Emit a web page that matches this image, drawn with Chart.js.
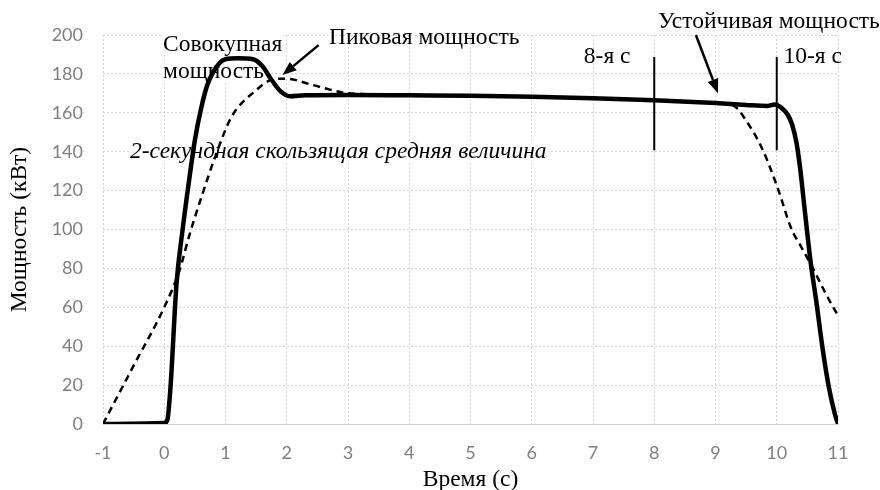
<!DOCTYPE html>
<html>
<head>
<meta charset="utf-8">
<script src="https://cdn.jsdelivr.net/npm/chart.js@4"></script>
<style>
  body { margin: 0; background: #fff; }
</style>
</head>
<body>
<canvas id="myChart" width="880" height="490"></canvas>
<script>
// total power (solid line)
const solidTime = [-1, 0, 0.05, 0.1, 0.2, 0.3, 0.4, 0.5, 0.6, 0.7, 0.8, 0.9, 1.0, 1.2, 1.45, 1.6, 1.75, 1.9, 2.05, 2.3, 3, 4, 5, 6, 7, 8, 9, 9.5, 9.85, 9.97, 10.08, 10.18, 10.25, 10.32, 10.38, 10.45, 10.55, 10.65, 10.75, 10.85, 10.95, 11];
const solidPower = [0, 0.5, 2, 18, 72, 100, 124, 146, 162, 174, 181, 185.5, 187.5, 188, 187.5, 184, 177, 171, 168.5, 169, 169.2, 169, 168.8, 168.2, 167.5, 166.5, 165, 164, 163.5, 164.3, 162.5, 159, 154, 145, 132, 112, 84, 62, 38.5, 19, 5, 0];

// 2-second moving average (dashed line)
const avgTime = [-1, -0.5, 0, 0.25, 0.4, 0.6, 0.85, 1.1, 1.44, 1.83, 2.0, 2.4, 2.9, 3.3, 4, 5, 6, 7, 8, 9, 9.3, 9.5, 9.77, 10.03, 10.23, 10.4, 10.6, 10.8, 11];
const avgPower = [0, 30, 60, 79, 96, 116, 139, 158, 170, 177.5, 177.5, 174.5, 170.5, 169.5, 169, 168.8, 168.2, 167.5, 166.5, 165, 163.5, 156, 141, 120, 101, 91, 79.5, 67, 55.7];

const xMin = -1, xMax = 11, xStep = 1;
const yMin = 0, yMax = 200, yStep = 20;

const toPoints = (xs, ys) => xs.map((t, i) => ({ x: t, y: ys[i] }));

const serif = '"Liberation Serif", "Times New Roman", serif';
const fs = 23.5;

const notes = {
  id: 'notes',
  beforeDatasetsDraw(chart) {
    const { ctx, scales: { x, y } } = chart;
    ctx.save();
    ctx.textBaseline = 'middle';
    const under = [
      { t: 'Совокупная', x: -0.02, y: 194.8, f: fs + 'px ' + serif },
      { t: 'мощность', x: -0.02, y: 181, f: fs + 'px ' + serif },
      { t: '2-секундная скользящая средняя величина', x: -0.56, y: 139.7, f: 'italic ' + fs + 'px ' + serif },
    ];
    under.forEach(l => {
      ctx.font = l.f;
      const px = x.getPixelForValue(l.x), py = y.getPixelForValue(l.y);
      const w = ctx.measureText(l.t).width;
      ctx.fillStyle = '#fff';
      ctx.fillRect(px - 1, py - 10, w + 2, 20);
      ctx.fillStyle = '#000';
      ctx.fillText(l.t, px, py);
    });
    ctx.restore();
  },
  afterDatasetsDraw(chart) {
    const { ctx, scales: { x, y } } = chart;
    ctx.save();
    ctx.fillStyle = '#000';
    ctx.strokeStyle = '#000';
    ctx.textBaseline = 'middle';
    ctx.font = fs + 'px ' + serif;
    [
      ['Пиковая мощность', 2.69, 198.5],
      ['Устойчивая мощность', 8.06, 206.7],
      ['8-я с', 6.85, 188.7],
      ['10-я с', 10.11, 188.7],
    ].forEach(([t, vx, vy]) => ctx.fillText(t, x.getPixelForValue(vx), y.getPixelForValue(vy)));

    // 8th and 10th second markers
    ctx.lineWidth = 2;
    [8, 10].forEach(v => {
      ctx.beginPath();
      ctx.moveTo(x.getPixelForValue(v), y.getPixelForValue(188.7));
      ctx.lineTo(x.getPixelForValue(v), y.getPixelForValue(140.7));
      ctx.stroke();
    });

    // arrows
    const arrow = (x1, y1, x2, y2) => {
      const ax = x.getPixelForValue(x1), ay = y.getPixelForValue(y1);
      const bx = x.getPixelForValue(x2), by = y.getPixelForValue(y2);
      const a = Math.atan2(by - ay, bx - ax);
      const len = 14, half = 5.5;
      const cx = bx - len * Math.cos(a), cy = by - len * Math.sin(a);
      ctx.lineWidth = 2.5;
      ctx.beginPath();
      ctx.moveTo(ax, ay);
      ctx.lineTo(cx, cy);
      ctx.stroke();
      ctx.beginPath();
      ctx.moveTo(bx, by);
      ctx.lineTo(cx + half * Math.sin(a), cy - half * Math.cos(a));
      ctx.lineTo(cx - half * Math.sin(a), cy + half * Math.cos(a));
      ctx.closePath();
      ctx.fill();
    };
    arrow(2.52, 194.8, 1.93, 179.4);
    arrow(8.68, 200, 9.04, 170.1);
    ctx.restore();
  }
};

const ctx = document.getElementById('myChart');

new Chart(ctx, {
  type: 'line',
  plugins: [notes],
  data: {
    datasets: [
      {
        label: 'Совокупная мощность',
        data: toPoints(solidTime, solidPower),
        borderColor: '#000',
        borderWidth: 4.5,
        pointRadius: 0,
        cubicInterpolationMode: 'monotone',
        order: 0,
      },
      {
        label: '2-секундная скользящая средняя величина',
        data: toPoints(avgTime, avgPower),
        borderColor: '#000',
        borderWidth: 2.5,
        borderDash: [7, 5],
        pointRadius: 0,
        cubicInterpolationMode: 'monotone',
        order: 1,
      },
    ],
  },
  options: {
    responsive: false,
    animation: false,
    devicePixelRatio: 1,
    layout: {
      padding: { left: 0, top: 35, right: 42, bottom: 0 },
    },
    plugins: {
      legend: { display: false },
      tooltip: { enabled: false },
    },
    scales: {
      x: {
        type: 'linear',
        min: xMin,
        max: xMax,
        afterFit: s => { s.height = 66; },
        grid: { color: '#d6d6d6', lineWidth: 1, drawTicks: false },
        border: { display: true, color: '#d0d0d0', dash: [2, 2] },
        ticks: {
          stepSize: xStep,
          padding: 18,
          color: '#7f7f7f',
          font: { family: 'Lato', size: 18 },
        },
        title: {
          display: true,
          text: 'Время (с)',
          color: '#000',
          font: { family: serif, size: fs, lineHeight: 0.9 },
          padding: { top: 0, bottom: 0 },
        },
      },
      y: {
        min: yMin,
        max: yMax,
        afterFit: s => { s.width = 103; },
        grid: { color: '#d6d6d6', lineWidth: 1, drawTicks: false },
        border: { display: false, dash: [2, 2] },
        ticks: {
          stepSize: yStep,
          padding: 20,
          color: '#7f7f7f',
          font: { family: 'Lato', size: 18 },
        },
        title: {
          display: true,
          text: 'Мощность (кВт)',
          color: '#000',
          font: { family: serif, size: fs },
          padding: { top: 6, bottom: 0 },
        },
      },
    },
  },
});
</script>
</body>
</html>
